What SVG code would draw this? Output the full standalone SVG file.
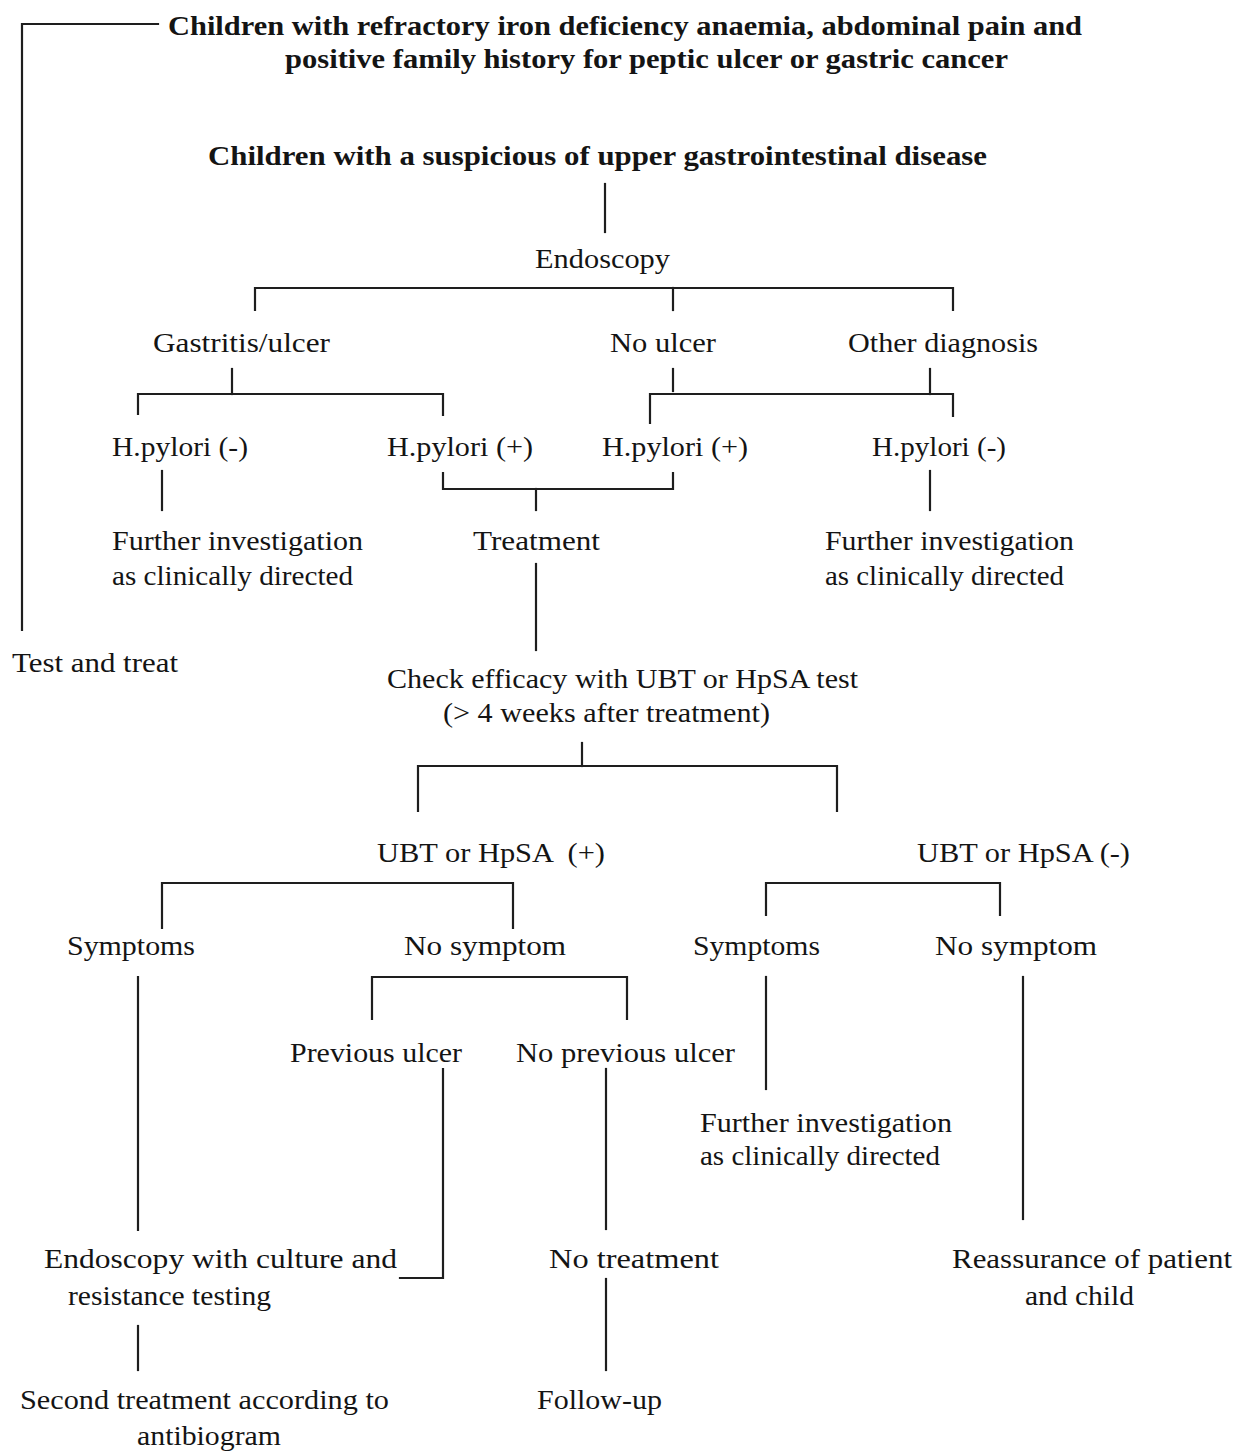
<svg xmlns="http://www.w3.org/2000/svg" width="1247" height="1452" viewBox="0 0 1247 1452">
<style>
text{font-family:"Liberation Serif","Times New Roman",serif;font-size:27px;fill:#141414;}
.b{font-weight:bold;}
.c line,.c polyline{stroke:#1e1e1e;stroke-width:2.2;fill:none;stroke-linecap:square;}
</style>
<rect width="1247" height="1452" fill="#fff"/>
<g id="connectors" class="c">
<polyline points="158,24 22,24 22,630"/>
<line x1="605" y1="184" x2="605" y2="232"/>
<polyline points="255,310 255,288 953,288 953,310"/>
<line x1="673" y1="288" x2="673" y2="310"/>
<line x1="232" y1="369" x2="232" y2="394"/>
<polyline points="138,414 138,394 443,394 443,415"/>
<line x1="673" y1="369" x2="673" y2="391"/>
<line x1="930" y1="369" x2="930" y2="394"/>
<polyline points="650,423 650,394 953,394 953,416"/>
<line x1="162" y1="471" x2="162" y2="510"/>
<polyline points="443,473 443,489 673,489 673,473"/>
<line x1="536" y1="489" x2="536" y2="510"/>
<line x1="930" y1="471" x2="930" y2="510"/>
<line x1="536" y1="564" x2="536" y2="650"/>
<line x1="582" y1="743" x2="582" y2="766"/>
<polyline points="418,811 418,766 837,766 837,811"/>
<polyline points="162,928 162,883 513,883 513,928"/>
<polyline points="766,915 766,883 1000,883 1000,915"/>
<line x1="138" y1="977" x2="138" y2="1230"/>
<polyline points="372,1019 372,977 627,977 627,1019"/>
<line x1="766" y1="977" x2="766" y2="1089"/>
<line x1="1023" y1="977" x2="1023" y2="1219"/>
<polyline points="443,1069 443,1278 400,1278"/>
<line x1="606" y1="1069" x2="606" y2="1229"/>
<line x1="606" y1="1279" x2="606" y2="1370"/>
<line x1="138" y1="1326" x2="138" y2="1370"/>
</g>
<g id="n_top"><text class="b" x="168" y="35" textLength="914" lengthAdjust="spacingAndGlyphs">Children with refractory iron deficiency anaemia, abdominal pain and</text><text class="b" x="285" y="68" textLength="723" lengthAdjust="spacingAndGlyphs">positive family history for peptic ulcer or gastric cancer</text></g>
<g id="n_suspicion"><text class="b" x="208" y="165" textLength="779" lengthAdjust="spacingAndGlyphs">Children with a suspicious of upper gastrointestinal disease</text></g>
<g id="n_endoscopy"><text x="535" y="268" textLength="135" lengthAdjust="spacingAndGlyphs">Endoscopy</text></g>
<g id="n_gastritis"><text x="153" y="352" textLength="177" lengthAdjust="spacingAndGlyphs">Gastritis/ulcer</text></g>
<g id="n_noulcer"><text x="610" y="352" textLength="106" lengthAdjust="spacingAndGlyphs">No ulcer</text></g>
<g id="n_other"><text x="848" y="352" textLength="190" lengthAdjust="spacingAndGlyphs">Other diagnosis</text></g>
<g id="n_hp1"><text x="112" y="456" textLength="136" lengthAdjust="spacingAndGlyphs">H.pylori (-)</text></g>
<g id="n_hp2"><text x="387" y="456" textLength="146" lengthAdjust="spacingAndGlyphs">H.pylori (+)</text></g>
<g id="n_hp3"><text x="602" y="456" textLength="146" lengthAdjust="spacingAndGlyphs">H.pylori (+)</text></g>
<g id="n_hp4"><text x="872" y="456" textLength="134" lengthAdjust="spacingAndGlyphs">H.pylori (-)</text></g>
<g id="n_further1"><text x="112" y="550" textLength="251" lengthAdjust="spacingAndGlyphs">Further investigation</text><text x="112" y="585" textLength="241" lengthAdjust="spacingAndGlyphs">as clinically directed</text></g>
<g id="n_treatment"><text x="473" y="550" textLength="127" lengthAdjust="spacingAndGlyphs">Treatment</text></g>
<g id="n_further2"><text x="825" y="550" textLength="249" lengthAdjust="spacingAndGlyphs">Further investigation</text><text x="825" y="585" textLength="239" lengthAdjust="spacingAndGlyphs">as clinically directed</text></g>
<g id="n_testtreat"><text x="12" y="672" textLength="166" lengthAdjust="spacingAndGlyphs">Test and treat</text></g>
<g id="n_check"><text x="387" y="688" textLength="471" lengthAdjust="spacingAndGlyphs">Check efficacy with UBT or HpSA test</text><text x="443" y="722" textLength="327" lengthAdjust="spacingAndGlyphs">(&gt; 4 weeks after treatment)</text></g>
<g id="n_ubtpos"><text x="377" y="862" textLength="228" lengthAdjust="spacingAndGlyphs" xml:space="preserve">UBT or HpSA  (+)</text></g>
<g id="n_ubtneg"><text x="917" y="862" textLength="213" lengthAdjust="spacingAndGlyphs">UBT or HpSA (-)</text></g>
<g id="n_sym1"><text x="67" y="955" textLength="128" lengthAdjust="spacingAndGlyphs">Symptoms</text></g>
<g id="n_nosym1"><text x="404" y="955" textLength="162" lengthAdjust="spacingAndGlyphs">No symptom</text></g>
<g id="n_sym2"><text x="693" y="955" textLength="127" lengthAdjust="spacingAndGlyphs">Symptoms</text></g>
<g id="n_nosym2"><text x="935" y="955" textLength="162" lengthAdjust="spacingAndGlyphs">No symptom</text></g>
<g id="n_prevulcer"><text x="290" y="1062" textLength="172" lengthAdjust="spacingAndGlyphs">Previous ulcer</text></g>
<g id="n_noprev"><text x="516" y="1062" textLength="219" lengthAdjust="spacingAndGlyphs">No previous ulcer</text></g>
<g id="n_further3"><text x="700" y="1132" textLength="252" lengthAdjust="spacingAndGlyphs">Further investigation</text><text x="700" y="1165" textLength="240" lengthAdjust="spacingAndGlyphs">as clinically directed</text></g>
<g id="n_endo2"><text x="44" y="1268" textLength="353" lengthAdjust="spacingAndGlyphs">Endoscopy with culture and</text><text x="68" y="1305" textLength="203" lengthAdjust="spacingAndGlyphs">resistance testing</text></g>
<g id="n_notreat"><text x="549" y="1268" textLength="170" lengthAdjust="spacingAndGlyphs">No treatment</text></g>
<g id="n_reassure"><text x="952" y="1268" textLength="280" lengthAdjust="spacingAndGlyphs">Reassurance of patient</text><text x="1025" y="1305" textLength="109" lengthAdjust="spacingAndGlyphs">and child</text></g>
<g id="n_second"><text x="20" y="1409" textLength="369" lengthAdjust="spacingAndGlyphs">Second treatment according to</text><text x="137" y="1445" textLength="144" lengthAdjust="spacingAndGlyphs">antibiogram</text></g>
<g id="n_follow"><text x="537" y="1409" textLength="125" lengthAdjust="spacingAndGlyphs">Follow-up</text></g>
</svg>
